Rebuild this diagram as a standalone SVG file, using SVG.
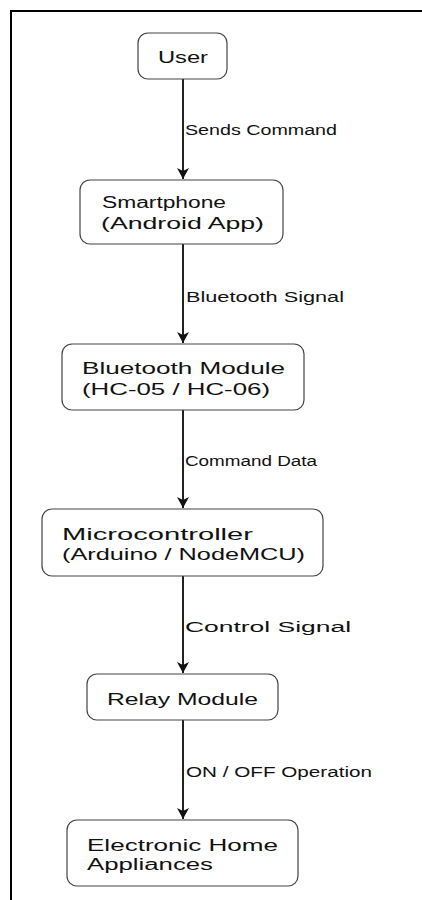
<svg xmlns="http://www.w3.org/2000/svg" width="422" height="900" viewBox="0 0 422 900">
<style>
.box{fill:#fff;stroke:#444;stroke-width:1.2}
.t{font-family:"Liberation Sans",Arial,sans-serif;font-size:16px;fill:#111}
.l{font-family:"Liberation Sans",Arial,sans-serif;font-size:14px;fill:#111}
.c{stroke:#222;stroke-width:2;fill:none}
</style>
<defs>
<marker id="ah" viewBox="0 0 12 12" refX="6" refY="11" markerWidth="12" markerHeight="12" markerUnits="userSpaceOnUse" orient="auto-start-reverse">
<path d="M0,2 L6,12 L12,2 L6,5 Z" fill="#111" transform="rotate(0)"/>
</marker>
</defs>
<rect x="0" y="0" width="422" height="900" fill="#fff"/>
<path d="M11,900 L11,11 L422,11" fill="none" stroke="#000" stroke-width="2"/>
<g id="connectors">
<line class="c" x1="183" y1="79" x2="183" y2="179"/>
<path d="M177,168 L183,179 L189,168 L183,171 Z" fill="#111"/>
<line class="c" x1="183" y1="244" x2="183" y2="343"/>
<path d="M177,332 L183,343 L189,332 L183,335 Z" fill="#111"/>
<line class="c" x1="183" y1="410" x2="183" y2="508"/>
<path d="M177,497 L183,508 L189,497 L183,500 Z" fill="#111"/>
<line class="c" x1="183" y1="576" x2="183" y2="673"/>
<path d="M177,662 L183,673 L189,662 L183,665 Z" fill="#111"/>
<line class="c" x1="183" y1="720" x2="183" y2="819"/>
<path d="M177,808 L183,819 L189,808 L183,811 Z" fill="#111"/>
<text class="l" x="185" y="135" textLength="152" lengthAdjust="spacingAndGlyphs">Sends Command</text>
<text class="l" x="186" y="302" textLength="158" lengthAdjust="spacingAndGlyphs">Bluetooth Signal</text>
<text class="l" x="185" y="466" textLength="132" lengthAdjust="spacingAndGlyphs">Command Data</text>
<text class="l" x="185" y="632" textLength="166" lengthAdjust="spacingAndGlyphs">Control Signal</text>
<text class="l" x="186" y="777" textLength="186" lengthAdjust="spacingAndGlyphs">ON / OFF Operation</text>
</g>
<g id="user">
<rect class="box" x="138" y="33" width="89" height="46" rx="10"/>
<text class="t" x="158" y="63" textLength="50" lengthAdjust="spacingAndGlyphs">User</text>
</g>
<g id="smartphone">
<rect class="box" x="80" y="180" width="203" height="64" rx="10"/>
<text class="t" x="102" y="208" textLength="124" lengthAdjust="spacingAndGlyphs">Smartphone</text>
<text class="t" x="101" y="229" textLength="163" lengthAdjust="spacingAndGlyphs">(Android App)</text>
</g>
<g id="bluetooth">
<rect class="box" x="62" y="344" width="242" height="66" rx="10"/>
<text class="t" x="82" y="374" textLength="203" lengthAdjust="spacingAndGlyphs">Bluetooth Module</text>
<text class="t" x="82" y="395" textLength="188" lengthAdjust="spacingAndGlyphs">(HC-05 / HC-06)</text>
</g>
<g id="micro">
<rect class="box" x="42" y="509" width="281" height="67" rx="10"/>
<text class="t" x="62" y="540" textLength="191" lengthAdjust="spacingAndGlyphs">Microcontroller</text>
<text class="t" x="62" y="560" textLength="243" lengthAdjust="spacingAndGlyphs">(Arduino / NodeMCU)</text>
</g>
<g id="relay">
<rect class="box" x="87" y="674" width="191" height="46" rx="10"/>
<text class="t" x="107" y="705" textLength="151" lengthAdjust="spacingAndGlyphs">Relay Module</text>
</g>
<g id="appliances">
<rect class="box" x="67" y="820" width="231" height="66" rx="10"/>
<text class="t" x="87" y="851" textLength="191" lengthAdjust="spacingAndGlyphs">Electronic Home</text>
<text class="t" x="87" y="870" textLength="126" lengthAdjust="spacingAndGlyphs">Appliances</text>
</g>
</svg>
